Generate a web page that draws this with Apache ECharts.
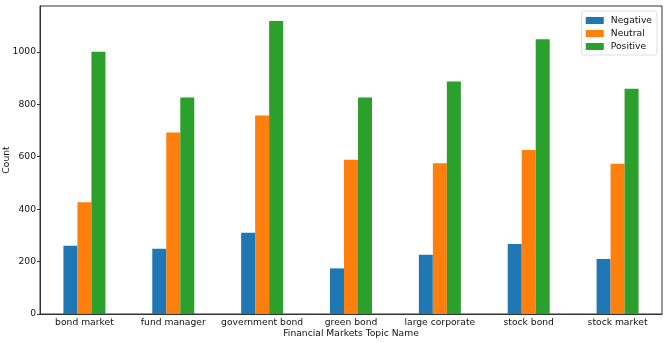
<!DOCTYPE html>
<html>
<head>
<meta charset="utf-8">
<script src="https://cdn.jsdelivr.net/npm/echarts@6/dist/echarts.min.js"></script>
<style>
  html, body { margin: 0; padding: 0; background: #fff; }
  #chart { width: 668px; height: 343px; }
</style>
</head>
<body>
<div id="chart"></div>
<script>
// topic names on the x axis
const topics = ['bond market', 'fund manager', 'government bond', 'green bond',
  'large corporate', 'stock bond', 'stock market'];

// counts per sentiment
const negative = [260, 249, 310, 174, 226, 267, 210];
const neutral = [426, 692, 757, 588, 575, 626, 573];
const positive = [1000, 826, 1118, 826, 887, 1048, 859];

const font = 'DejaVu Sans';
const ink = '#111';
const fs = 9.2;

const chart = echarts.init(document.getElementById('chart'));

function bar(name, data, color) {
  return {
    name: name,
    type: 'bar',
    data: data,
    barWidth: 14,
    barGap: '0%',
    itemStyle: {color: color},
    animation: false
  };
}

chart.setOption({
  animation: false,
  textStyle: {fontFamily: font},
  grid: {
    left: 40, top: 6, right: 6, bottom: 29,
    outerBoundsMode: 'none',
    containLabel: false,
    show: true, borderColor: '#333', borderWidth: 1, backgroundColor: 'transparent'
  },
  legend: {
    orient: 'vertical',
    right: 11, top: 11,
    padding: [5, 5, 4, 4],
    itemWidth: 18, itemHeight: 7, itemGap: 4,
    icon: 'rect',
    borderColor: '#ddd', borderWidth: 1, borderRadius: 2,
    backgroundColor: '#fff',
    textStyle: {fontFamily: font, fontSize: fs, color: ink, padding: [0, 0, 0, 2]},
    data: ['Negative', 'Neutral', 'Positive']
  },
  xAxis: {
    type: 'category',
    data: topics,
    name: 'Financial Markets Topic Name',
    nameLocation: 'middle',
    nameGap: 15,
    nameMoveOverlap: false,
    nameTextStyle: {fontFamily: font, fontSize: fs, color: ink},
    axisLine: {lineStyle: {color: '#333'}},
    axisTick: {alignWithLabel: true, length: 3, lineStyle: {color: '#333'}},
    axisLabel: {fontFamily: font, fontSize: fs, color: ink, margin: 4, interval: 0}
  },
  yAxis: {
    type: 'value',
    min: 0, max: 1175, interval: 200,
    name: 'Count',
    nameLocation: 'middle',
    nameGap: 29,
    nameRotate: 90,
    nameMoveOverlap: false,
    nameTextStyle: {fontFamily: font, fontSize: fs, color: ink},
    axisLine: {show: true, lineStyle: {color: '#333'}},
    axisTick: {show: true, length: 3, lineStyle: {color: '#333'}},
    axisLabel: {
      fontFamily: font, fontSize: fs, color: ink, margin: 4, showMaxLabel: false,
      formatter: v => String(v)
    },
    splitLine: {show: false}
  },
  series: [
    bar('Negative', negative, '#1f77b4'),
    bar('Neutral', neutral, '#ff7f0e'),
    bar('Positive', positive, '#2ca02c')
  ]
});
</script>
</body>
</html>
